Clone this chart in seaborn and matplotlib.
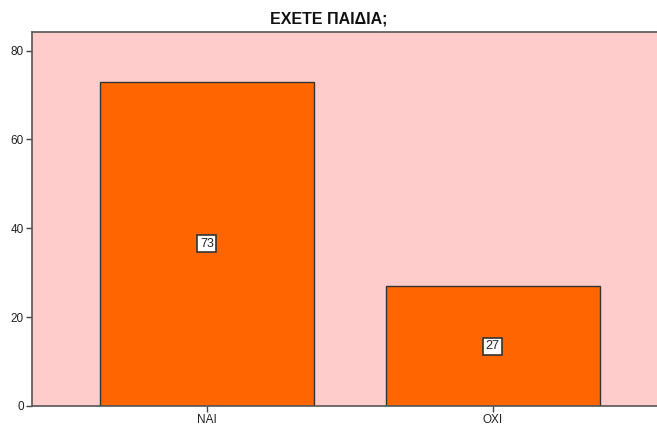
import matplotlib
matplotlib.use("Agg")
import matplotlib.pyplot as plt
import seaborn as sns
import pandas as pd

categories = ["ΝΑΙ", "ΟΧΙ"]
counts = [73, 27]
y_ticks = [0, 20, 40, 60, 80]

sns.set_theme(style="white")
plt.rcParams["font.family"] = ["Liberation Sans", "DejaVu Sans"]

df = pd.DataFrame({"answer": categories, "count": counts})

fig = plt.figure(figsize=(6.57, 4.26), dpi=100)
ax = fig.add_axes([0.0487, 0.047, 0.9513, 0.878])
ax.set_facecolor("#FFCCCC")

sns.barplot(data=df, x="answer", y="count", color="#FF6600", width=0.75,
            edgecolor="#333333", linewidth=1.0, saturation=1, ax=ax)

for i, v in enumerate(counts):
    ax.text(i, v / 2, str(v), ha="center", va="center", fontsize=9, color="#222222",
            bbox=dict(boxstyle="square,pad=0.2", facecolor="white", edgecolor="#333333", linewidth=1.2))

ax.set_xlim(-0.612, 1.575)
ax.set_ylim(0, 84.2)
ax.set_yticks(y_ticks)
ax.set_xlabel("")
ax.set_ylabel("")
ax.tick_params(axis="both", which="both", length=4, width=1, color="#444444",
               labelsize=8.5, labelcolor="#222222", left=True, bottom=True, pad=2)
for side in ["left", "top", "bottom"]:
    ax.spines[side].set_visible(True)
    ax.spines[side].set_color("#555555")
    ax.spines[side].set_linewidth(1.2)
ax.spines["right"].set_visible(False)

fig.text(0.5, 0.955, "ΕΧΕΤΕ ΠΑΙΔΙΑ;", ha="center", va="center",
         fontsize=11.5, fontweight="bold", color="#111111")

fig.savefig("out.png", dpi=100)
